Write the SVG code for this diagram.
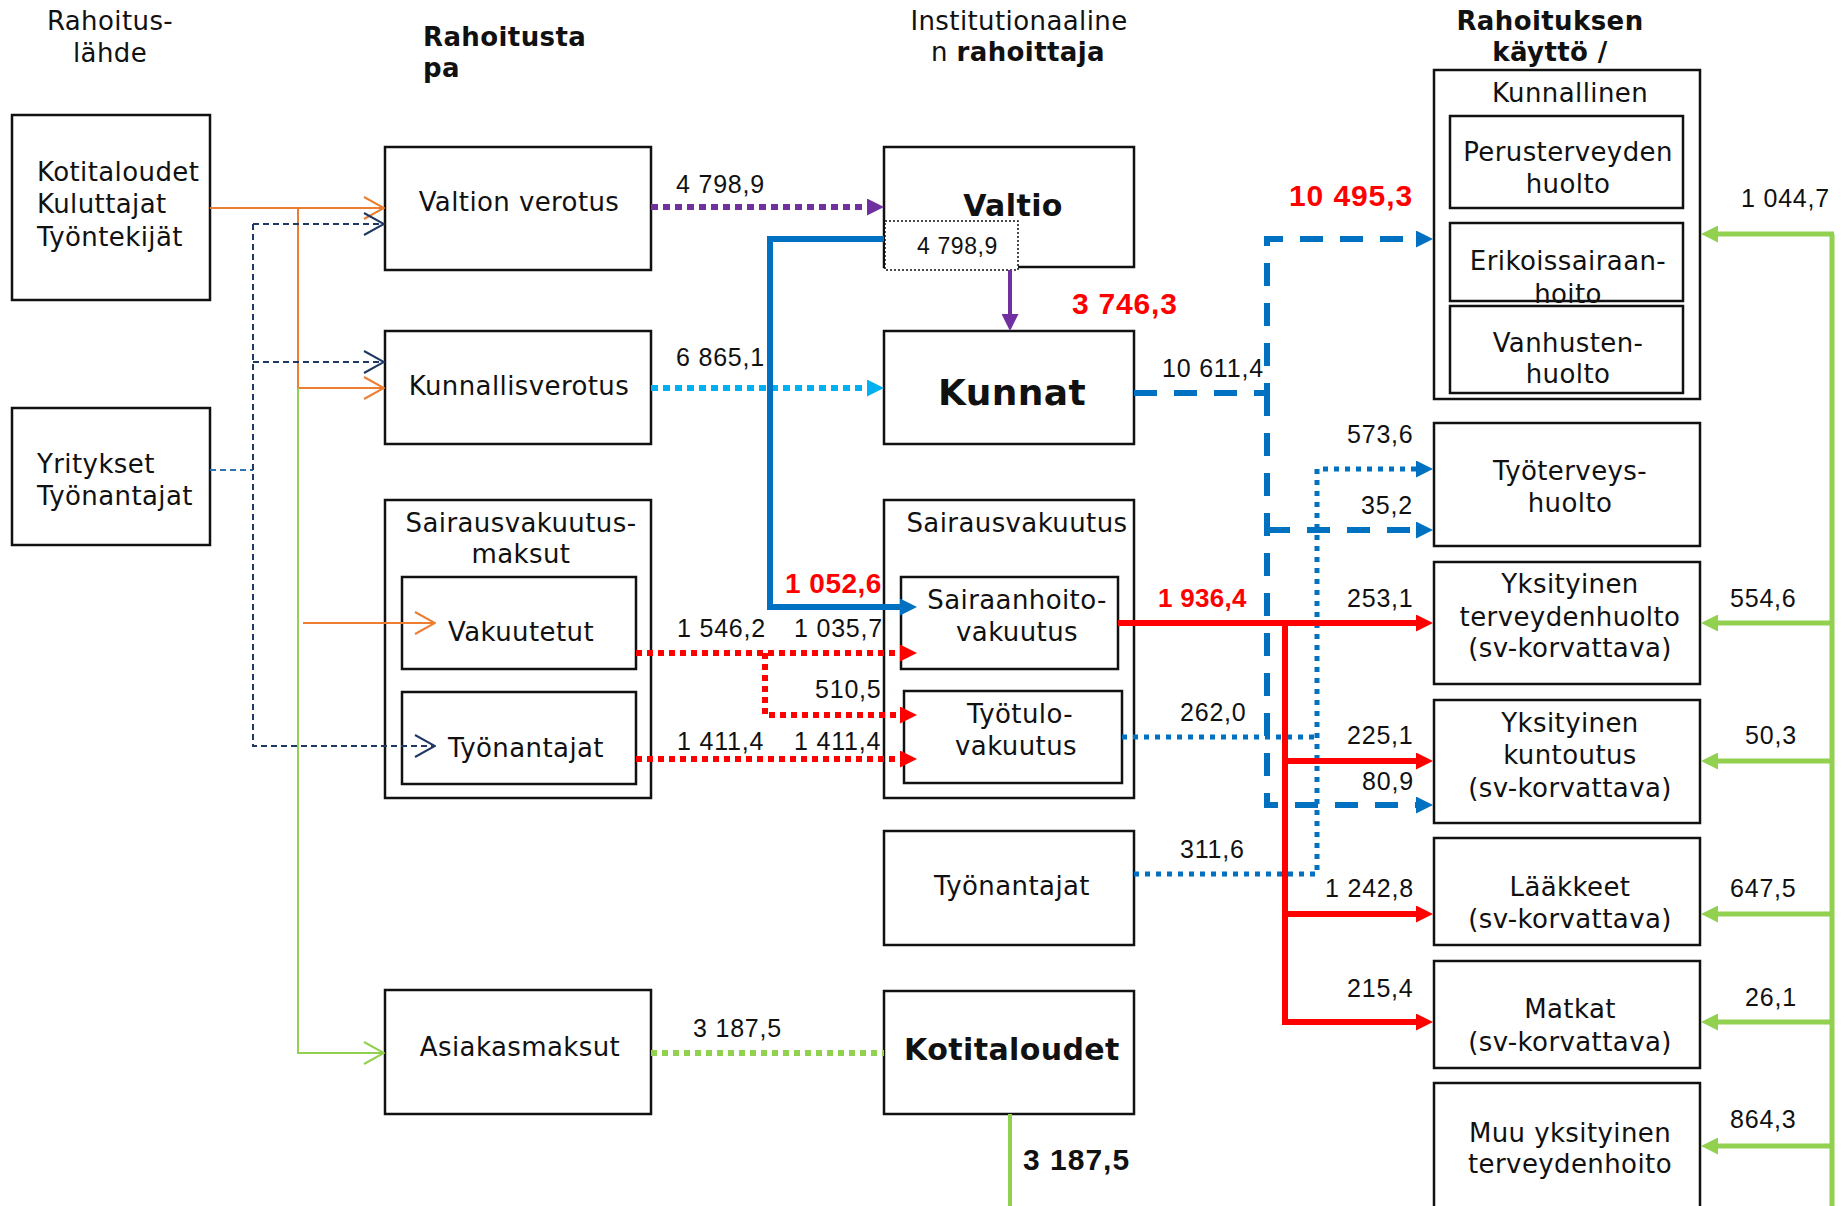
<svg xmlns="http://www.w3.org/2000/svg" width="1846" height="1206" viewBox="0 0 1846 1206">
<style>
.bx{fill:#fff;stroke:#111;stroke-width:2.5}
.ol{fill:none;stroke:#111;stroke-width:2.5}
.t{font-family:"DejaVu Sans",Verdana,sans-serif;font-size:26px;fill:#111;letter-spacing:0.4px}
.m{text-anchor:middle}
.b{font-weight:bold}
.n{font-family:"Liberation Sans",Arial,sans-serif;font-size:25px;fill:#111;letter-spacing:0.8px}
.nr{font-family:"Liberation Sans",Arial,sans-serif;font-weight:bold;fill:#ff0000;letter-spacing:0.8px}
.thin{fill:none;stroke-width:2}
.thick{fill:none;stroke-width:6}
</style>
<defs>
<marker id="oOr" viewBox="0 0 22 24" refX="21" refY="12" markerWidth="22" markerHeight="24" markerUnits="userSpaceOnUse" orient="auto"><path d="M1,1 L21,12 L1,23" fill="none" stroke="#ED7D31" stroke-width="2"/></marker>
<marker id="oNv" viewBox="0 0 22 24" refX="21" refY="12" markerWidth="22" markerHeight="24" markerUnits="userSpaceOnUse" orient="auto"><path d="M1,1 L21,12 L1,23" fill="none" stroke="#1F3864" stroke-width="2"/></marker>
<marker id="oGr" viewBox="0 0 22 24" refX="21" refY="12" markerWidth="22" markerHeight="24" markerUnits="userSpaceOnUse" orient="auto"><path d="M1,1 L21,12 L1,23" fill="none" stroke="#92D050" stroke-width="2"/></marker>
<marker id="fPu" viewBox="0 0 17 17" refX="9" refY="8.5" markerWidth="17" markerHeight="17" markerUnits="userSpaceOnUse" orient="auto"><path d="M0,0 L17,8.5 L0,17z" fill="#7030A0"/></marker>
<marker id="fCy" viewBox="0 0 17 17" refX="9" refY="8.5" markerWidth="17" markerHeight="17" markerUnits="userSpaceOnUse" orient="auto"><path d="M0,0 L17,8.5 L0,17z" fill="#00B0F0"/></marker>
<marker id="fBl" viewBox="0 0 17 17" refX="9" refY="8.5" markerWidth="17" markerHeight="17" markerUnits="userSpaceOnUse" orient="auto"><path d="M0,0 L17,8.5 L0,17z" fill="#0070C0"/></marker>
<marker id="fRd" viewBox="0 0 17 17" refX="9" refY="8.5" markerWidth="17" markerHeight="17" markerUnits="userSpaceOnUse" orient="auto"><path d="M0,0 L17,8.5 L0,17z" fill="#FF0000"/></marker>
<marker id="fGr" viewBox="0 0 17 17" refX="9" refY="8.5" markerWidth="17" markerHeight="17" markerUnits="userSpaceOnUse" orient="auto"><path d="M0,0 L17,8.5 L0,17z" fill="#92D050"/></marker>
</defs>
<rect width="1846" height="1206" fill="#fff"/>

<g id="titles" class="t">
<text x="110" y="30" class="m">Rahoitus-</text>
<text x="110" y="62" class="m">lähde</text>
<text x="423" y="46" class="b">Rahoitusta</text>
<text x="423" y="77" class="b">pa</text>
<text x="1019" y="30" class="m">Institutionaaline</text>
<text x="1018" y="61" class="m">n <tspan class="b">rahoittaja</tspan></text>
<text x="1550" y="30" class="m b">Rahoituksen</text>
<text x="1550" y="61" class="m b">käyttö /</text>
</g>

<g id="n-kotitaloudet-lahde"><rect class="bx" x="12" y="115" width="198" height="185"/>
<text class="t" x="37" y="181">Kotitaloudet</text><text class="t" x="37" y="213">Kuluttajat</text><text class="t" x="37" y="246">Työntekijät</text></g>
<g id="n-yritykset"><rect class="bx" x="12" y="408" width="198" height="137"/>
<text class="t" x="37" y="473">Yritykset</text><text class="t" x="37" y="505">Työnantajat</text></g>

<g id="n-valtion-verotus"><rect class="bx" x="385" y="147" width="266" height="123"/>
<text class="t m" x="519" y="211">Valtion verotus</text></g>
<g id="n-kunnallisverotus"><rect class="bx" x="385" y="331" width="266" height="113"/>
<text class="t m" x="519" y="395">Kunnallisverotus</text></g>
<g id="n-sv-maksut"><rect class="bx" x="385" y="500" width="266" height="298"/>
<text class="t m" x="521" y="532">Sairausvakuutus-</text><text class="t m" x="521" y="563">maksut</text>
<g id="n-vakuutetut"><rect class="bx" x="402" y="577" width="234" height="92"/><text class="t m" x="521" y="641">Vakuutetut</text></g>
<g id="n-tyonantajat-maksu"><rect class="bx" x="402" y="692" width="234" height="92"/><text class="t m" x="526" y="757">Työnantajat</text></g>
</g>
<g id="n-asiakasmaksut"><rect class="bx" x="385" y="990" width="266" height="124"/>
<text class="t m" x="520" y="1056">Asiakasmaksut</text></g>

<g id="n-valtio"><rect class="bx" x="884" y="147" width="250" height="120"/>
<text class="t m b" x="1013" y="216" style="font-size:30px">Valtio</text>
<rect x="885" y="221" width="133" height="49" fill="#fff" stroke="#111" stroke-width="1.5" stroke-dasharray="2 2"/>
<text class="n" x="917" y="254" style="font-size:23px;letter-spacing:0.6px">4 798,9</text></g>
<g id="n-kunnat"><rect class="bx" x="884" y="331" width="250" height="113"/>
<text class="t m b" x="1012" y="405" style="font-size:36px">Kunnat</text></g>
<g id="n-sairausvakuutus"><rect class="bx" x="884" y="500" width="250" height="298"/>
<text class="t m" x="1017" y="532">Sairausvakuutus</text>
<g id="n-sairaanhoito"><rect class="bx" x="901" y="577" width="217" height="92"/><text class="t m" x="1017" y="609">Sairaanhoito-</text><text class="t m" x="1017" y="641">vakuutus</text></g>
<g id="n-tyotulo"><rect class="bx" x="904" y="691" width="218" height="92"/><text class="t m" x="1020" y="723">Työtulo-</text><text class="t m" x="1016" y="755">vakuutus</text></g>
</g>
<g id="n-tyonantajat"><rect class="bx" x="884" y="831" width="250" height="114"/>
<text class="t m" x="1012" y="895">Työnantajat</text></g>
<g id="n-kotitaloudet"><rect class="bx" x="884" y="991" width="250" height="123"/>
<text class="t m b" x="1012" y="1060" style="font-size:30px">Kotitaloudet</text></g>

<g id="n-kunnallinen"><rect class="bx" x="1434" y="70" width="266" height="329"/>
<text class="t m" x="1570" y="102">Kunnallinen</text>
<g id="n-perus"><rect class="bx" x="1450" y="116" width="233" height="92"/><text class="t m" x="1568" y="161">Perusterveyden</text><text class="t m" x="1568" y="193">huolto</text></g>
<g id="n-erikois"><rect x="1450" y="223" width="233" height="78" fill="#fff"/><text class="t m" x="1568" y="270">Erikoissairaan-</text><text class="t m" x="1568" y="303">hoito</text><rect class="ol" x="1450" y="223" width="233" height="78"/></g>
<g id="n-vanhusten"><rect class="bx" x="1450" y="306" width="233" height="87"/><text class="t m" x="1568" y="352">Vanhusten-</text><text class="t m" x="1568" y="383">huolto</text></g>
</g>
<g id="n-tyoterveys"><rect class="bx" x="1434" y="423" width="266" height="123"/>
<text class="t m" x="1570" y="480">Työterveys-</text><text class="t m" x="1570" y="512">huolto</text></g>
<g id="n-yks-terv"><rect class="bx" x="1434" y="562" width="266" height="122"/>
<text class="t m" x="1570" y="593">Yksityinen</text><text class="t m" x="1570" y="626">terveydenhuolto</text><text class="t m" x="1570" y="657">(sv-korvattava)</text></g>
<g id="n-yks-kunt"><rect class="bx" x="1434" y="700" width="266" height="123"/>
<text class="t m" x="1570" y="732">Yksityinen</text><text class="t m" x="1570" y="764">kuntoutus</text><text class="t m" x="1570" y="797">(sv-korvattava)</text></g>
<g id="n-laakkeet"><rect class="bx" x="1434" y="838" width="266" height="107"/>
<text class="t m" x="1570" y="896">Lääkkeet</text><text class="t m" x="1570" y="928">(sv-korvattava)</text></g>
<g id="n-matkat"><rect class="bx" x="1434" y="961" width="266" height="107"/>
<text class="t m" x="1570" y="1018">Matkat</text><text class="t m" x="1570" y="1051">(sv-korvattava)</text></g>
<g id="n-muu"><rect class="bx" x="1434" y="1083" width="266" height="140"/>
<text class="t m" x="1570" y="1142">Muu yksityinen</text><text class="t m" x="1570" y="1173">terveydenhoito</text></g>

<g id="connectors">
<path class="thin" stroke="#ED7D31" d="M210,208 H384" marker-end="url(#oOr)"/>
<path class="thin" stroke="#ED7D31" d="M298,208 V388 H384" marker-end="url(#oOr)"/>
<path class="thin" stroke="#ED7D31" d="M303,623 H435" marker-end="url(#oOr)"/>
<path class="thin" stroke="#92D050" d="M298,388 V1053 H384" marker-end="url(#oGr)"/>
<path class="thin" stroke="#2E75B6" stroke-dasharray="6 4" d="M210,470 H253"/>
<path class="thin" stroke="#1F3864" stroke-dasharray="6 4" d="M253,224 V746 H435" marker-end="url(#oNv)"/>
<path class="thin" stroke="#1F3864" stroke-dasharray="6 4" d="M253,224 H384" marker-end="url(#oNv)"/>
<path class="thin" stroke="#1F3864" stroke-dasharray="6 4" d="M253,362 H384" marker-end="url(#oNv)"/>

<path class="thick" stroke="#7030A0" stroke-dasharray="7 5" d="M651,207 H876" marker-end="url(#fPu)"/>
<path class="thick" stroke="#00B0F0" stroke-dasharray="7 5" d="M651,388 H876" marker-end="url(#fCy)"/>
<path fill="none" stroke="#7030A0" stroke-width="4" d="M1010,270 V323" marker-end="url(#fPu)"/>
<path class="thick" stroke="#0070C0" d="M884,239 H770 V607 H909" marker-end="url(#fBl)"/>

<path class="thick" stroke="#FF0000" stroke-dasharray="6 5" d="M636,653 H909" marker-end="url(#fRd)"/>
<path class="thick" stroke="#FF0000" stroke-dasharray="6 5" d="M765,653 V715 H909" marker-end="url(#fRd)"/>
<path class="thick" stroke="#FF0000" stroke-dasharray="6 5" d="M636,759 H909" marker-end="url(#fRd)"/>

<path class="thick" stroke="#0070C0" stroke-dasharray="23 17" d="M1134,393 H1267 V239 H1425" marker-end="url(#fBl)"/>
<path class="thick" stroke="#0070C0" stroke-dasharray="23 17" d="M1267,393 V805 H1425" marker-end="url(#fBl)"/>
<path class="thick" stroke="#0070C0" stroke-dasharray="23 17" d="M1267,530 H1425" marker-end="url(#fBl)"/>

<path fill="none" stroke="#0070C0" stroke-width="5" stroke-dasharray="5 6" d="M1122,737 H1317"/>
<path fill="none" stroke="#0070C0" stroke-width="5" stroke-dasharray="5 6" d="M1134,874 H1317 V469 H1425" marker-end="url(#fBl)"/>

<path class="thick" stroke="#FF0000" d="M1118,623 H1425" marker-end="url(#fRd)"/>
<path class="thick" stroke="#FF0000" d="M1285,623 V1022 H1425" marker-end="url(#fRd)"/>
<path class="thick" stroke="#FF0000" d="M1285,761 H1425" marker-end="url(#fRd)"/>
<path class="thick" stroke="#FF0000" d="M1285,914 H1425" marker-end="url(#fRd)"/>

<path class="thick" stroke="#92D050" stroke-dasharray="6 5" d="M651,1053 H884"/>
<path fill="none" stroke="#92D050" stroke-width="4" d="M1010,1114 V1206"/>
<path fill="none" stroke="#92D050" stroke-width="5" d="M1832,234 V1206"/>
<path fill="none" stroke="#92D050" stroke-width="5" d="M1834,234 H1709" marker-end="url(#fGr)"/>
<path fill="none" stroke="#92D050" stroke-width="5" d="M1832,623 H1709" marker-end="url(#fGr)"/>
<path fill="none" stroke="#92D050" stroke-width="5" d="M1832,761 H1709" marker-end="url(#fGr)"/>
<path fill="none" stroke="#92D050" stroke-width="5" d="M1832,914 H1709" marker-end="url(#fGr)"/>
<path fill="none" stroke="#92D050" stroke-width="5" d="M1832,1022 H1709" marker-end="url(#fGr)"/>
<path fill="none" stroke="#92D050" stroke-width="5" d="M1832,1146 H1709" marker-end="url(#fGr)"/>
</g>

<g id="labels">
<text class="n" x="676" y="193">4 798,9</text>
<text class="n" x="676" y="366">6 865,1</text>
<text class="n" x="1162" y="377">10 611,4</text>
<text class="n" x="677" y="637">1 546,2</text>
<text class="n" x="794" y="637">1 035,7</text>
<text class="n" x="815" y="698">510,5</text>
<text class="n" x="677" y="750">1 411,4</text>
<text class="n" x="794" y="750">1 411,4</text>
<text class="n" x="1180" y="721">262,0</text>
<text class="n" x="1180" y="858">311,6</text>
<text class="n" x="693" y="1037">3 187,5</text>
<text class="n" x="1347" y="443">573,6</text>
<text class="n" x="1361" y="514">35,2</text>
<text class="n" x="1347" y="607">253,1</text>
<text class="n" x="1347" y="744">225,1</text>
<text class="n" x="1362" y="790">80,9</text>
<text class="n" x="1325" y="897">1 242,8</text>
<text class="n" x="1347" y="997">215,4</text>
<text class="n" x="1741" y="207">1 044,7</text>
<text class="n" x="1730" y="607">554,6</text>
<text class="n" x="1745" y="744">50,3</text>
<text class="n" x="1730" y="897">647,5</text>
<text class="n" x="1745" y="1006">26,1</text>
<text class="n" x="1730" y="1128">864,3</text>
<text class="nr" x="1289" y="206" style="font-size:30px;letter-spacing:0.9px">10 495,3</text>
<text class="nr" x="1072" y="314" style="font-size:30px">3 746,3</text>
<text class="nr" x="785" y="593" style="font-size:28px;letter-spacing:0.5px">1 052,6</text>
<text class="nr" x="1158" y="607" style="font-size:26px;letter-spacing:0.3px">1 936,4</text>
<text class="nr" x="1023" y="1170" style="font-size:30px;fill:#111;letter-spacing:1px">3 187,5</text>
</g>
</svg>
